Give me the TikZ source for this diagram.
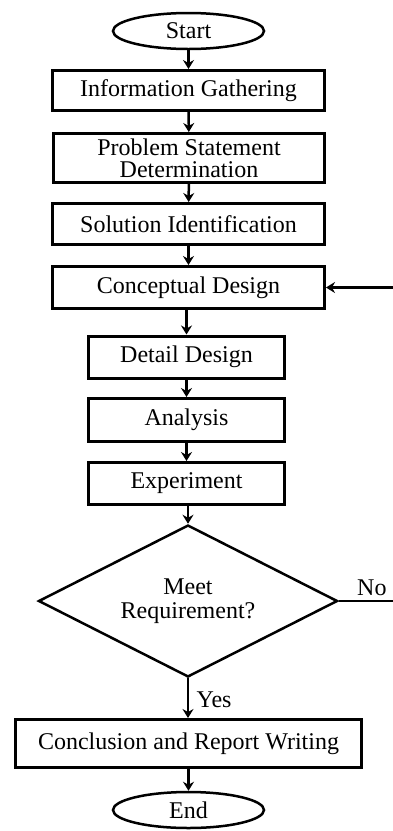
\documentclass[tikz,border=0pt]{standalone}
\usepackage{fontspec}
\setmainfont{Liberation Serif}
\usetikzlibrary{shapes.geometric,arrows.meta}
\begin{document}
\begin{tikzpicture}[x=1pt,y=-1pt,
  txt/.style={font=\fontsize{24}{26}\selectfont},
  box/.style={draw,line width=3pt,inner sep=0pt,align=center,txt},
  term/.style={draw,ellipse,line width=2.5pt,inner sep=0pt,minimum width=151pt,minimum height=36pt,txt},
  dec/.style={draw,diamond,aspect=2,line width=2.5pt,inner sep=0pt,minimum width=299pt,minimum height=152pt,align=center,txt},
  flow/.style={line width=2.5pt,-{Stealth[length=9pt,width=11pt,inset=3pt]}},
  plain/.style={line width=2.5pt}]
\useasboundingbox (0,0) rectangle (393,831);
\node[term] (start) at (188.5,31) {Start};
\node[box,minimum width=272pt,minimum height=40pt] (info) at (188.5,90.5) {Information Gathering};
\node[box,minimum width=271pt,minimum height=49pt] (prob) at (189,158) {Problem Statement\\[-4pt]Determination};
\node[box,minimum width=272pt,minimum height=41pt] (sol) at (188.5,224) {Solution Identification};
\node[box,minimum width=272pt,minimum height=42pt] (conc) at (188.5,287.5) {Conceptual Design};
\node[box,minimum width=196pt,minimum height=42pt] (det) at (186.5,357) {Detail Design};
\node[box,minimum width=196pt,minimum height=43pt] (ana) at (186.5,420) {Analysis};
\node[box,minimum width=196pt,minimum height=42pt] (exp) at (186.5,483.5) {Experiment};
\node[dec] (meet) at (188,601) {Meet\\[-2pt]Requirement?};
\node[box,minimum width=346pt,minimum height=48pt] (rep) at (188.5,743.5) {Conclusion and Report Writing};
\node[term] (end) at (188.5,810) {End};
\coordinate (fb) at (393,287.5);
\coordinate (no) at (393,601);
\draw[flow] (start) -- (info);
\draw[flow] (info) -- (prob);
\draw[flow] (prob) -- (sol);
\draw[flow] (sol) -- (conc);
\draw[flow] (conc.south -| det.north) -- (det);
\draw[flow] (det) -- (ana);
\draw[flow] (ana) -- (exp);
\draw[flow] (exp.south -| meet.north) -- (meet.north);
\draw[flow] (meet.south) -- node[right,txt,xshift=4pt,yshift=-2pt] (yes) {Yes} (meet.south |- rep.north);
\draw[flow] (rep.south -| end.north) -- (end);
\draw[flow] (fb) -- (conc.east);
\draw[plain] (meet.east) -- node[above,txt,xshift=6pt,yshift=1pt] (nolab) {No} (no);
\end{tikzpicture}
\end{document}
